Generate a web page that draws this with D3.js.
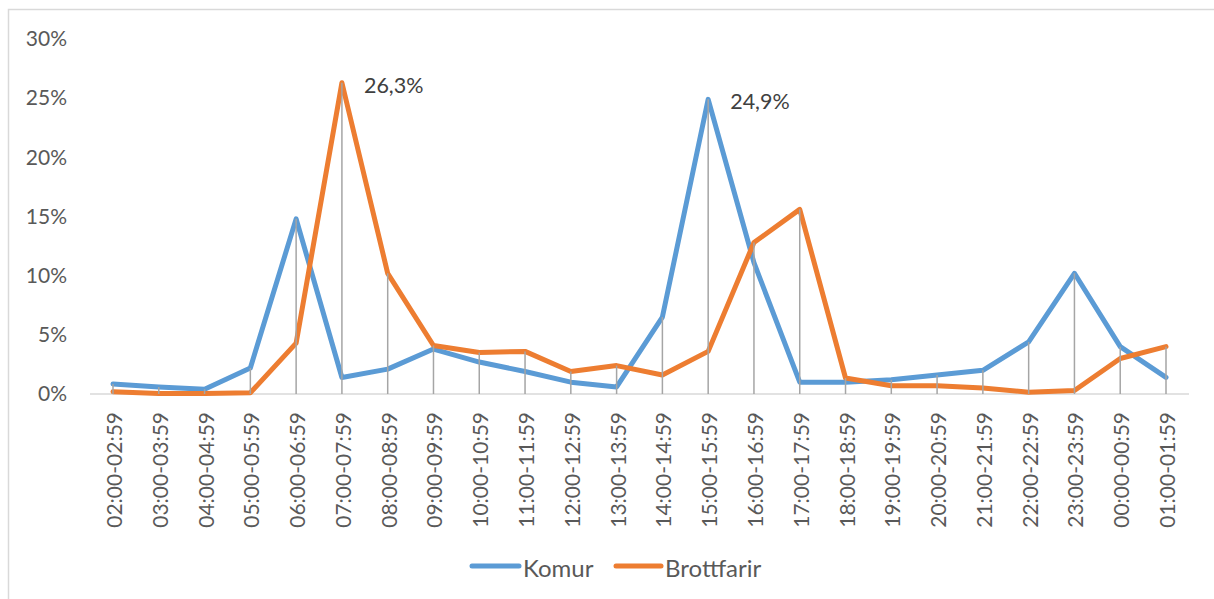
<!DOCTYPE html>
<html><head><meta charset="utf-8">
<script src="https://cdn.jsdelivr.net/npm/d3@7"></script>
<style>body{margin:0;background:#fff}svg{display:block}text{font-family:Lato,"Open Sans",sans-serif}</style>
</head><body><svg id="c" width="1214" height="599"></svg>
<script>
const categories = ["02:00-02:59","03:00-03:59","04:00-04:59","05:00-05:59","06:00-06:59","07:00-07:59","08:00-08:59","09:00-09:59","10:00-10:59","11:00-11:59","12:00-12:59","13:00-13:59","14:00-14:59","15:00-15:59","16:00-16:59","17:00-17:59","18:00-18:59","19:00-19:59","20:00-20:59","21:00-21:59","22:00-22:59","23:00-23:59","00:00-00:59","01:00-01:59"];
const komur = [0.85,0.6,0.4,2.2,14.8,1.4,2.1,3.8,2.7,1.9,1.0,0.6,6.5,24.9,11.1,1.0,1.0,1.2,1.6,2.0,4.4,10.2,4.0,1.4];
const brottfarir = [0.2,0.05,0.05,0.1,4.3,26.3,10.2,4.1,3.5,3.6,1.9,2.4,1.6,3.6,12.8,15.6,1.35,0.7,0.7,0.5,0.15,0.3,3.0,4.0];
const seriesNames = ["Komur","Brottfarir"];
const yTicks = [0,5,10,15,20,25,30];
const labelled = [{series:1,index:5,text:"26,3%"},{series:0,index:13,text:"24,9%"}];

const colors = ["#5b9bd5","#ed7d31"];
const svg = d3.select("#c");
svg.append("rect").attr("x",8.5).attr("y",9.5).attr("width",1214).attr("height",600)
  .attr("fill","none").attr("stroke","#d9d9d9").attr("stroke-width",1.5);

const x = d3.scalePoint().domain(categories).range([113,1166]);
const y = d3.scaleLinear().domain([0,30]).range([394,39]);
const series = [komur, brottfarir];

// y axis labels
const yAxis = d3.axisLeft(y).tickValues(yTicks).tickFormat(d=>d+"%").tickSize(0).tickPadding(0);
const ga = svg.append("g").attr("transform","translate(67,0)").call(yAxis);
ga.select(".domain").remove();
ga.selectAll("text").attr("fill","#595959").style("font-size","21px").style("font-family","Lato");

// x axis
const xAxis = d3.axisBottom(x).tickSize(0).tickPadding(0);
const gx = svg.append("g").attr("transform","translate(0,394)").call(xAxis);
gx.select(".domain").remove();
gx.selectAll("text").attr("fill","#595959").style("font-size","21px").style("font-family","Lato")
  .attr("text-anchor","end").attr("dy",null).attr("y",0)
  .attr("transform","translate(0,18) rotate(-90)").attr("dominant-baseline","central");
svg.append("line").attr("x1",90).attr("x2",1189).attr("y1",394).attr("y2",394)
  .attr("stroke","#d9d9d9").attr("stroke-width",1.5);

// lines
const line = d3.line().x((d,i)=>x(categories[i])).y(d=>y(d));
series.forEach((s,k)=>{
  svg.append("path").datum(s).attr("d",line).attr("fill","none").attr("stroke",colors[k])
    .attr("stroke-width",5).attr("stroke-linejoin","round").attr("stroke-linecap","round");
});

// drop lines
svg.append("g").selectAll("line").data(categories).join("line")
  .attr("x1",d=>x(d)).attr("x2",d=>x(d))
  .attr("y1",(d,i)=>y(Math.max(komur[i],brottfarir[i]))).attr("y2",394)
  .attr("stroke","#a5a5a5").attr("stroke-width",1.5);

// data labels
svg.append("g").selectAll("text").data(labelled).join("text")
  .attr("x",d=>x(categories[d.index])+22).attr("y",d=>y(series[d.series][d.index])+2)
  .attr("dominant-baseline","central").attr("fill","#404040").style("font-size","21.5px")
  .text(d=>d.text);

// legend
const legendPos = [{lx:472, tx:523},{lx:616, tx:665}];
seriesNames.forEach((n,k)=>{
  const p = legendPos[k];
  svg.append("line").attr("x1",p.lx).attr("x2",p.tx-4).attr("y1",566).attr("y2",566)
    .attr("stroke",colors[k]).attr("stroke-width",5).attr("stroke-linecap","round");
  svg.append("text").attr("x",p.tx).attr("y",567).attr("dominant-baseline","central")
    .attr("fill","#595959").style("font-size","24px").text(n);
});
</script></body></html>
